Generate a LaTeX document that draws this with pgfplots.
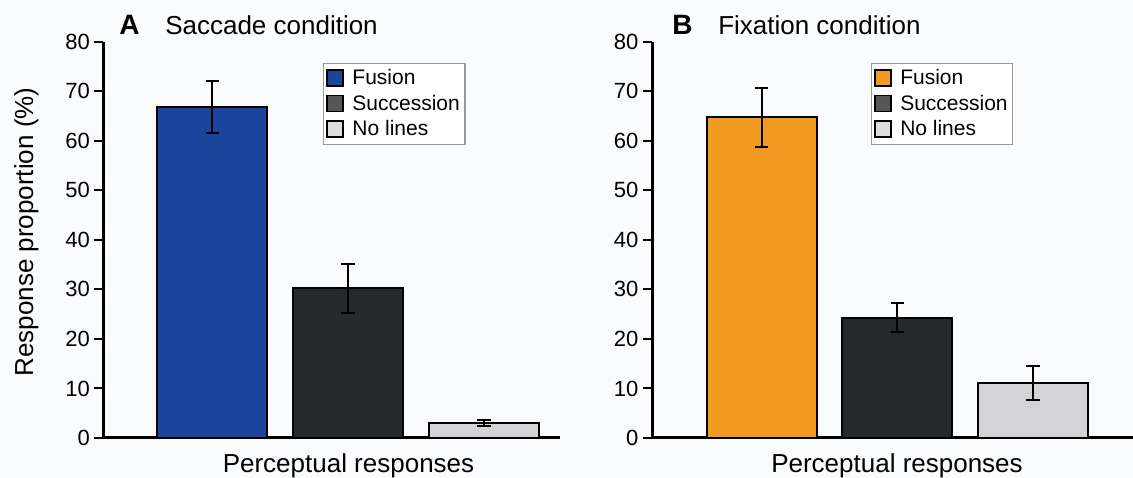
\documentclass[border=0pt]{standalone}
\usepackage{fontspec}
\setmainfont{Liberation Sans}
\usepackage{pgfplots}
\pgfplotsset{compat=1.18}

\definecolor{bg}{RGB}{250,251,253}
\definecolor{fusA}{RGB}{27,68,156}
\definecolor{fusB}{RGB}{243,154,33}
\definecolor{succ}{RGB}{38,41,44}
\definecolor{succleg}{RGB}{85,86,88}
\definecolor{nolines}{RGB}{212,212,214}
\definecolor{nolinesleg}{RGB}{220,220,222}

\pgfplotsset{
  panel/.style={
    scale only axis, height=297.375pt,
    ymin=0, ymax=80, ytick={0,10,...,80}, xtick=\empty,
    axis x line=bottom, axis y line=left,
    axis line style={-, line width=2.25pt, line cap=butt},
    tick align=outside, major tick length=6.75pt,
    ytick style={line width=1.5pt, black},
    tick label style={font=\fontsize{16.5}{19}\selectfont},
    /pgf/number format/assume math mode=true,
    clip=false,
    xlabel style={font=\fontsize{19.5}{23}\selectfont, anchor=base},
    ylabel style={font=\fontsize{19.5}{23}\selectfont, anchor=base},
    legend cell align=left,
    legend style={draw=gray!80, line width=0.9pt, fill=white, anchor=north west,
      font=\fontsize{15.75}{18}\selectfont, inner xsep=2pt, inner ysep=3pt,
      row sep=2.6pt, column sep=4.5pt, nodes={inner sep=1.8pt}},
    legend image code/.code={\draw[#1, line width=1.3pt] (0pt,-6pt) rectangle (12pt,6pt);},
  },
  bar/.style={ybar, bar width=82.5pt, draw=black, line width=1.5pt,
    error bars/y dir=both, error bars/y explicit,
    error bars/error bar style={line width=1.5pt, black},
    error bars/error mark options={rotate=90, mark size=5pt, line width=1.5pt, black}},
}

\begin{document}
\begin{tikzpicture}[x=0.75pt,y=0.75pt]
\fill[bg] (0,0) rectangle (1133,478);
\useasboundingbox (0,0) rectangle (1133,478);

% Panel A
\begin{axis}[panel, at={(77.625pt,30pt)}, width=342.375pt,
  xmin=-0.80, xmax=2.56,
  legend style={at={(axis description cs:0.481,0.947)}},
  xlabel={Perceptual responses},
  xlabel style={at={(axis description cs:0.5367,-0.0858)}},
  ylabel={Response proportion (\%)},
  ylabel style={at={(axis description cs:-0.1544,0.5196)}}]
\addlegendimage{fill=fusA, draw=black}
\addlegendentry{Fusion}
\addlegendimage{fill=succleg, draw=black}
\addlegendentry{Succession}
\addlegendimage{fill=nolinesleg, draw=black}
\addlegendentry{No lines}
\addplot[bar, fill=fusA, forget plot] coordinates {(0,66.8) +- (0,5.3)};
\addplot[bar, fill=succ, forget plot] coordinates {(1,30.2) +- (0,5.0)};
\addplot[bar, fill=nolines, forget plot] coordinates {(2,3.0) +- (0,0.55)};
\end{axis}

% Panel B
\begin{axis}[panel, at={(489pt,30pt)}, width=360.75pt,
  xmin=-0.807, xmax=2.737,
  legend style={at={(axis description cs:0.455,0.947)}},
  xlabel={Perceptual responses},
  xlabel style={at={(axis description cs:0.5094,-0.0858)}}]
\addlegendimage{fill=fusB, draw=black}
\addlegendentry{Fusion}
\addlegendimage{fill=succleg, draw=black}
\addlegendentry{Succession}
\addlegendimage{fill=nolinesleg, draw=black}
\addlegendentry{No lines}
\addplot[bar, fill=fusB, forget plot] coordinates {(0,64.7) +- (0,6.0)};
\addplot[bar, fill=succ, forget plot] coordinates {(1,24.3) +- (0,2.85)};
\addplot[bar, fill=nolines, forget plot] coordinates {(2,11.1) +- (0,3.4)};
\end{axis}

% panel titles
\node[anchor=base west, inner sep=0pt, font=\fontsize{21}{24}\selectfont\bfseries] at (119,443) {A};
\node[anchor=base west, inner sep=0pt, font=\fontsize{19.5}{23}\selectfont] at (165,443) {Saccade condition};
\node[anchor=base west, inner sep=0pt, font=\fontsize{21}{24}\selectfont\bfseries] at (672,443) {B};
\node[anchor=base west, inner sep=0pt, font=\fontsize{19.5}{23}\selectfont] at (718,443) {Fixation condition};
\end{tikzpicture}
\end{document}
